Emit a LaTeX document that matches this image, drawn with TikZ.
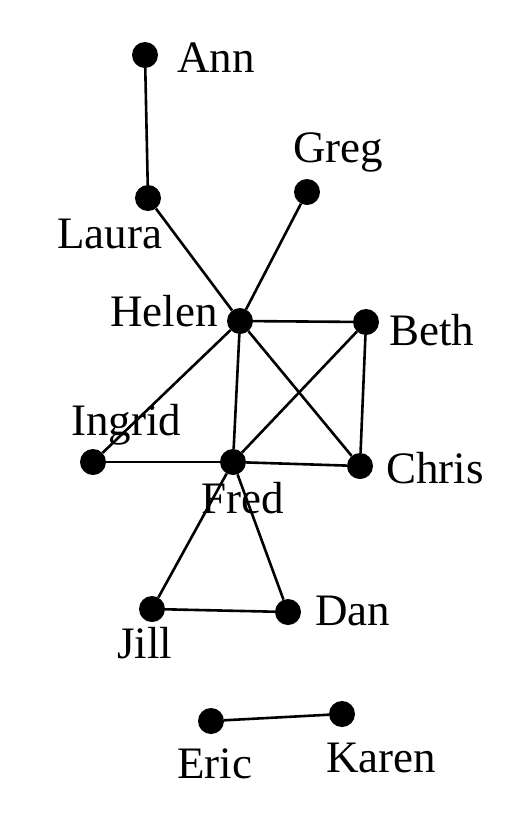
\documentclass[tikz,border=0pt]{standalone}
\usepackage{fontspec}
\setmainfont{Liberation Serif}
\begin{document}
\begin{tikzpicture}[x=1pt,y=-1pt,
  dot/.style={circle,fill=black,draw=none,minimum size=26pt,inner sep=0pt},
  lbl/.style={anchor=base west,inner sep=0pt,font=\fontsize{45}{52}\selectfont},
  edge/.style={draw=black,line width=2.6pt}]
\useasboundingbox[fill=white] (0,0) rectangle (509,823);
\node[dot] (ann) at (145,55) {};
\node[dot] (laura) at (148,198) {};
\node[dot] (greg) at (307,192) {};
\node[dot] (helen) at (240,321) {};
\node[dot] (beth) at (366,322) {};
\node[dot] (ingrid) at (93,462) {};
\node[dot] (fred) at (233,462) {};
\node[dot] (chris) at (360,466) {};
\node[dot] (jill) at (152,609) {};
\node[dot] (dan) at (288,612) {};
\node[dot] (eric) at (211,721) {};
\node[dot] (karen) at (342,714) {};
\node[lbl] (lann) at (177,72) {Ann};
\node[lbl] (llaura) at (57,248) {Laura};
\node[lbl] (lgreg) at (293,162) {Greg};
\node[lbl] (lhelen) at (110,326) {Helen};
\node[lbl] (lbeth) at (389,345) {Beth};
\node[lbl] (lingrid) at (71,435) {Ingrid};
\node[lbl] (lfred) at (201,513) {Fred};
\node[lbl] (lchris) at (386,483) {Chris};
\node[lbl] (ljill) at (117,658) {Jill};
\node[lbl] (ldan) at (315,625) {Dan};
\node[lbl] (leric) at (177,778) {Eric};
\node[lbl] (lkaren) at (326,772) {Karen};
\path[edge] (ann) -- (laura);
\path[edge] (laura) -- (helen);
\path[edge] (greg) -- (helen);
\path[edge] (helen) -- (beth);
\path[edge] (helen) -- (chris);
\path[edge] (helen) -- (fred);
\path[edge] (helen) -- (ingrid);
\path[edge] (beth) -- (fred);
\path[edge] (beth) -- (chris);
\path[edge] (ingrid) -- (fred);
\path[edge] (fred) -- (chris);
\path[edge] (fred) -- (jill);
\path[edge] (fred) -- (dan);
\path[edge] (jill) -- (dan);
\path[edge] (eric) -- (karen);
\end{tikzpicture}
\end{document}
